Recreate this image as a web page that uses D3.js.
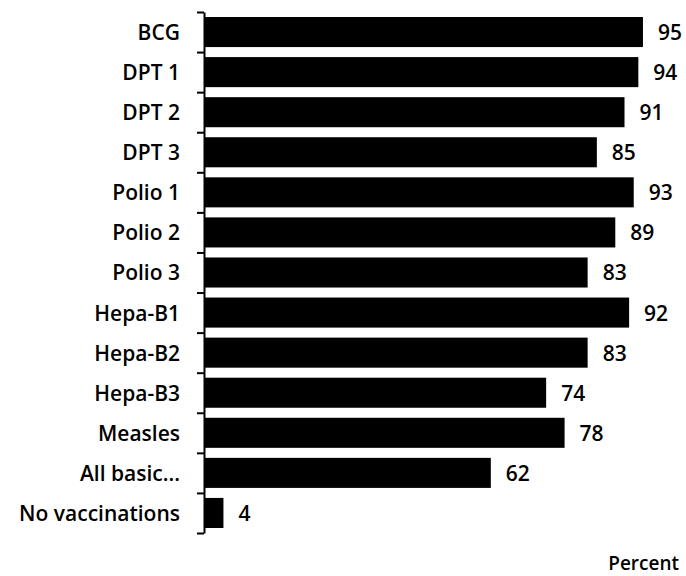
<!DOCTYPE html>
<html>
<head>
<meta charset="utf-8">
<script src="https://cdn.jsdelivr.net/npm/d3@7"></script>
<style>
  body { margin: 0; background: #fff; }
  svg { display: block; }
</style>
</head>
<body>
<div id="container"></div>
<script>
// vaccination coverage, percent
var categories = ["BCG", "DPT 1", "DPT 2", "DPT 3", "Polio 1", "Polio 2", "Polio 3",
                  "Hepa-B1", "Hepa-B2", "Hepa-B3", "Measles", "All basic...", "No vaccinations"];
var values = [95, 94, 91, 85, 93, 89, 83, 92, 83, 74, 78, 62, 4];
var axisTitle = "Percent";

var font = "'Open Sans', sans-serif";
var width = 686, height = 576;
var margin = {top: 12, right: 20, bottom: 43, left: 204};

var svg = d3.select("#container")
  .append("svg")
  .attr("width", width)
  .attr("height", height)
  .style("font-family", font);

var g = svg.append("g")
  .attr("transform", "translate(" + margin.left + "," + margin.top + ")");

var innerH = height - margin.top - margin.bottom;

var x = d3.scaleLinear()
  .domain([0, 100])
  .range([1, 462]);

var y = d3.scaleBand()
  .domain(categories)
  .range([0, innerH])
  .paddingInner(0.25)
  .paddingOuter(0.125);

// boundary ticks between categories (excel style)
var yEdge = d3.scaleLinear()
  .domain([0, categories.length])
  .range([0, innerH]);

g.append("g")
  .selectAll("rect")
  .data(values)
  .enter().append("rect")
  .attr("x", x(0))
  .attr("y", function(d, i) { return y(categories[i]); })
  .attr("width", function(d) { return x(d) - x(0); })
  .attr("height", y.bandwidth())
  .attr("fill", "#000");

g.append("g")
  .selectAll("text")
  .data(values)
  .enter().append("text")
  .attr("x", function(d) { return x(d) + 15; })
  .attr("y", function(d, i) { return y(categories[i]) + y.bandwidth() / 2; })
  .attr("dy", "0.38em")
  .attr("font-size", 21)
  .attr("font-weight", 600)
  .attr("fill", "#000")
  .text(function(d) { return d; });

// tick marks + line
var edgeAxis = g.append("g")
  .call(d3.axisLeft(yEdge)
    .tickValues(d3.range(categories.length + 1))
    .tickSize(7)
    .tickSizeOuter(0)
    .tickFormat(""));
edgeAxis.selectAll("line, path").attr("stroke", "#000").attr("stroke-width", 2);

// category labels
var labelAxis = g.append("g")
  .call(d3.axisLeft(y).tickSize(0).tickPadding(24));
labelAxis.select(".domain").remove();
labelAxis.selectAll("text")
  .attr("font-size", 21)
  .attr("font-weight", 600)
  .attr("font-family", font)
  .attr("dy", "0.38em")
  .attr("fill", "#000");

svg.append("text")
  .attr("x", 679)
  .attr("y", 570)
  .attr("text-anchor", "end")
  .attr("font-size", 19)
  .attr("font-weight", 600)
  .attr("fill", "#000")
  .text(axisTitle);
</script>
</body>
</html>
